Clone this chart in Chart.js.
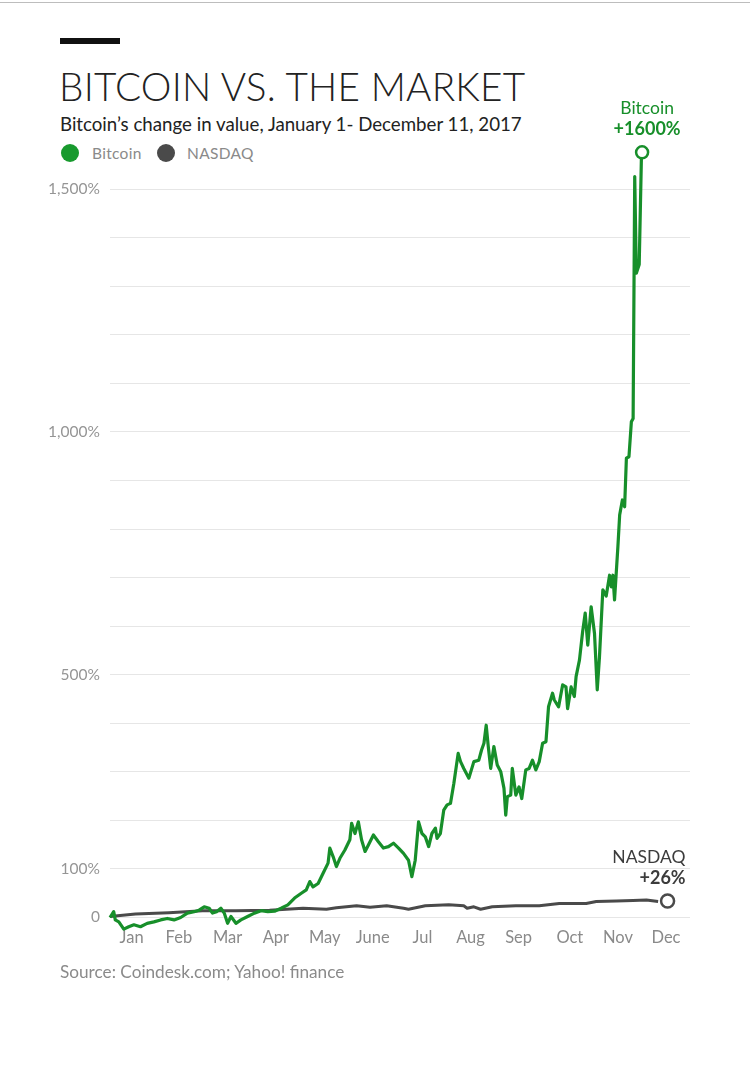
<!DOCTYPE html>
<html>
<head>
<meta charset="utf-8">
<script src="https://cdn.jsdelivr.net/npm/chart.js@4.4.1/dist/chart.umd.min.js"></script>
<style>
  html, body { margin:0; padding:0; background:#fff; }
  body { width:750px; height:1085px; position:relative; overflow:hidden; font-family: Lato, "Open Sans", sans-serif; }
  #topline { position:absolute; left:0; top:2px; width:750px; height:1px; background:#bdbdbd; }
  #bar { position:absolute; left:60px; top:38px; width:60px; height:6px; background:#111; }
  #title { position:absolute; left:59px; top:63px; font-size:38.7px; font-weight:300; color:#222; letter-spacing:0.2px; white-space:nowrap; }
  #subtitle { position:absolute; left:60px; top:113px; font-size:18.7px; color:#222; white-space:nowrap; }
  .lgi { position:absolute; top:144px; font-size:15.5px; color:#8a8a8a; white-space:nowrap; line-height:18px; letter-spacing:0.3px; }
  .dot { position:absolute; top:144px; width:18px; height:18px; border-radius:50%; }
  #source { position:absolute; left:60px; top:961px; font-size:17.2px; color:#8a8a8a; white-space:nowrap; }
  canvas { position:absolute; left:0; top:0; }
</style>
</head>
<body>
<div id="topline"></div>
<div id="bar"></div>
<div id="title">BITCOIN VS. THE MARKET</div>
<div id="subtitle">Bitcoin’s change in value, January 1- December 11, 2017</div>
<span class="dot" style="left:61px;background:#189a2e"></span><span class="lgi" style="left:92px">Bitcoin</span>
<span class="dot" style="left:157px;background:#4a4a4a"></span><span class="lgi" style="left:187px">NASDAQ</span>
<canvas id="c" width="750" height="1085"></canvas>
<div id="source">Source: Coindesk.com; Yahoo! finance</div>
<script>
// ---- data (x = day of 2017, y = % change since Jan 1) ----
const btcDays = [0,2.3,3.3,5.5,8.6,11.7,14.9,19.0,23.2,27.4,31.6,35.8,40.0,44.1,48.3,52.5,55.6,58.8,61.9,64.0,66.5,69.2,71.3,73.4,75.5,78.6,81.7,85.9,90.1,94.3,98.5,102.7,106.8,111.0,115.2,119.4,122.5,124.7,126.7,129.9,133.0,136.1,137.2,139.3,141.3,143.5,146.6,149.7,150.8,152.9,155.0,157.0,159.2,161.2,164.4,167.5,170.6,173.8,176.9,180.1,183.2,186.3,188.4,190.5,192.6,194.7,196.8,198.9,200.9,203.1,204.1,206.2,208.3,210.4,212.5,214.6,217.3,218.8,220.8,224.0,227.1,230.2,231.9,233.4,234.8,236.1,237.6,239.6,241.7,243.9,245.9,247.0,248.0,250.1,251.1,253.3,255.3,257.0,258.5,259.5,261.6,263.7,265.8,267.9,270.0,272.1,273.7,276.2,277.3,280.0,282.5,284.6,285.6,287.8,289.8,290.9,293.0,295.0,296.6,298.2,300.3,302.4,304.1,305.5,307.6,309.7,311.8,312.9,313.9,314.9,317.0,318.1,319.8,321.2,322.3,323.9,325.4,326.5,327.5,328.5,330.3,331.7];
const btcValues = [0,12,-5,-9,-24,-19,-15,-19,-12,-9,-5,-2,-5,0,9,12,15,22,19,9,12,19,9,-12,2,-12,-5,2,9,14,12,13,19,26,40,50,57,74,63,70,91,112,143,125,105,122,139,160,194,173,197,160,136,149,170,156,143,146,153,143,132,118,84,118,197,173,166,146,173,184,163,173,221,232,235,276,338,321,307,287,321,324,345,359,396,352,307,352,314,300,266,211,249,252,307,252,269,245,280,304,307,324,304,321,359,362,434,462,448,434,479,475,430,475,455,496,530,589,627,561,640,585,469,537,675,662,705,681,705,654,764,829,860,846,946,949,1021,1028,1526,1327,1345,1570];
const nasdaqDays = [0,15.9,36.8,57.7,78.6,99.6,120.5,135.1,141.3,153.9,162.3,172.7,183.2,186.3,196.8,211.4,220.8,222.9,227.1,231.3,238.6,253.3,267.9,280.4,297.2,303.5,316.0,326.4,334.8,342.1];
const nasdaqValues = [2,7,10,14,14,15,19,17,20,24,21,24,19,17,24,26,24,19,22,17,22,24,24,29,29,33,34,35,36,33];
const btcEnd = { day: 332.1, value: 1576, label: 'Bitcoin', change: '+1600%' };
const nasdaqEnd = { day: 348, value: 34, label: 'NASDAQ', change: '+26%' };
const monthLabels = ['Jan','Feb','Mar','Apr','May','June','Jul','Aug','Sep','Oct','Nov','Dec'];
const monthTickDays = [13.5,43,73.4,103.5,134,164,195,225,255,287,317,347];
const yGridValues = [0,100,200,300,400,500,600,700,800,900,1000,1100,1200,1300,1400,1500];
const yLabelValues = [0,100,500,1000,1500];
const yLabelTexts = ['0','100%','500%','1,000%','1,500%'];

const GREEN = '#178f2a';
const GREY = '#4a4a4a';

const endLabels = {
  id: 'endLabels',
  afterDatasetsDraw(chart) {
    const c = chart.ctx;
    const items = [
      { ds: 0, info: btcEnd, color: GREEN, align: 'center', dx: 5 },
      { ds: 1, info: nasdaqEnd, color: '#3c3c3c', align: 'right', dx: 18 }
    ];
    c.save();
    items.forEach(it => {
      const p = chart.getDatasetMeta(it.ds).data[0];
      c.fillStyle = it.color;
      c.textAlign = it.align;
      c.textBaseline = 'middle';
      c.font = '400 17.5px Lato, sans-serif';
      c.fillText(it.info.label, p.x + it.dx, p.y - 44);
      c.font = '700 18px Lato, sans-serif';
      c.fillText(it.info.change, p.x + it.dx, p.y - 23);
    });
    c.restore();
  }
};

new Chart(document.getElementById('c'), {
  type: 'line',
  data: {
    datasets: [
      { label: 'Bitcoin end', data: [{ x: btcEnd.day, y: btcEnd.value }], showLine: false,
        pointRadius: 6, pointBorderWidth: 2.5, pointBackgroundColor: '#fff', pointBorderColor: GREEN, clip: false },
      { label: 'NASDAQ end', data: [{ x: nasdaqEnd.day, y: nasdaqEnd.value }], showLine: false,
        pointRadius: 6.5, pointBorderWidth: 2.5, pointBackgroundColor: '#fff', pointBorderColor: GREY, clip: false },
      { label: 'Bitcoin', data: btcDays.map((d, i) => ({ x: d, y: btcValues[i] })),
        borderColor: GREEN, borderWidth: 3.2, pointRadius: 0, tension: 0, clip: false, borderJoinStyle: 'round' },
      { label: 'NASDAQ', data: nasdaqDays.map((d, i) => ({ x: d, y: nasdaqValues[i] })),
        borderColor: GREY, borderWidth: 3, pointRadius: 0, tension: 0, clip: false, borderJoinStyle: 'round' }
    ]
  },
  options: {
    responsive: false,
    animation: false,
    layout: { padding: { top: 140.7, right: 60, left: 0, bottom: 0 } },
    plugins: { legend: { display: false }, tooltip: { enabled: false } },
    scales: {
      x: {
        type: 'linear', min: 0, max: 362,
        grid: { display: false, drawTicks: false },
        border: { display: false },
        afterBuildTicks: s => { s.ticks = monthTickDays.map(v => ({ value: v })); },
        afterFit: s => { s.height = 1085 - 927.2; },
        ticks: {
          autoSkip: false, maxRotation: 0, padding: 1,
          color: '#8a8a8a', font: { family: 'Lato', size: 16.5 },
          callback: (v, i) => monthLabels[i]
        }
      },
      y: {
        min: -20, max: 1600,
        grid: { color: '#e6e6e6', lineWidth: 1, drawTicks: false },
        border: { display: false },
        afterBuildTicks: s => { s.ticks = yGridValues.map(v => ({ value: v })); },
        afterFit: s => { s.width = 110; },
        ticks: {
          padding: 10, color: '#959595', font: { family: 'Lato', size: 15.5 },
          callback: v => { const k = yLabelValues.indexOf(v); return k >= 0 ? yLabelTexts[k] : ''; }
        }
      }
    }
  },
  plugins: [endLabels]
});
</script>
</body>
</html>
